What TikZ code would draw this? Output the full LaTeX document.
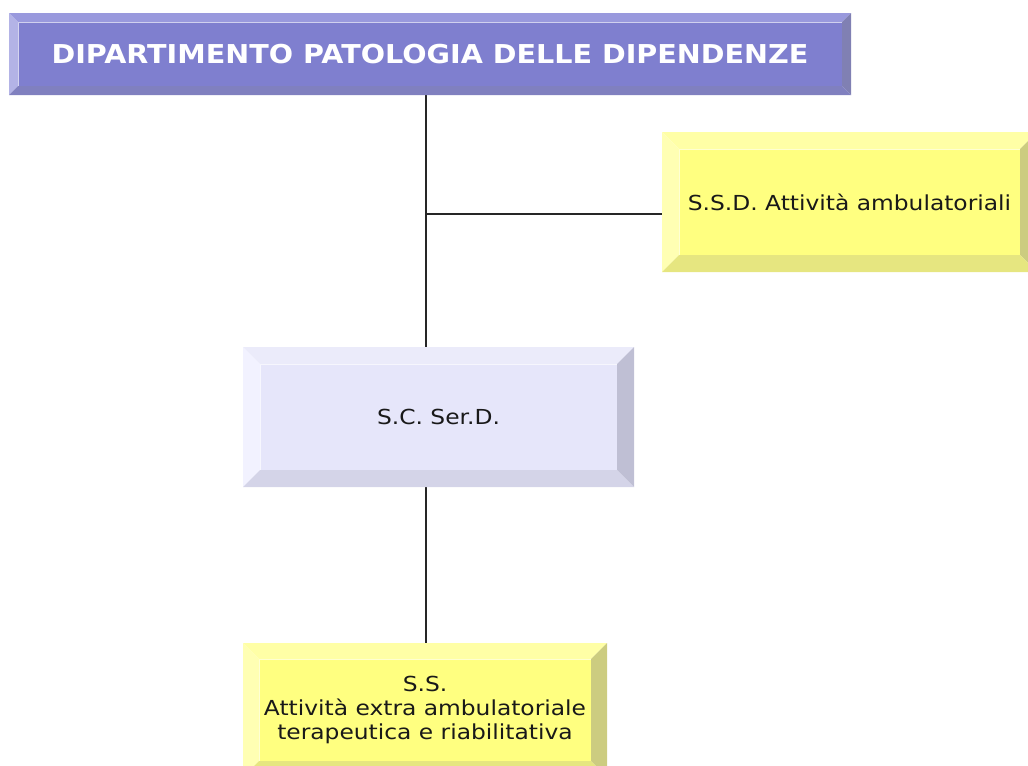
\documentclass[tikz,border=0pt]{standalone}
\usepackage{fontspec}
\setmainfont{DejaVu Sans}
\newfontfamily\boxfont[FakeStretch=1.13]{DejaVu Sans}
\newfontfamily\titlefont[FakeStretch=1.1]{DejaVu Sans Bold}
\usetikzlibrary{positioning,calc,backgrounds}

\definecolor{deptface}{HTML}{7F7FCF}
\definecolor{depttop}{HTML}{9999DD}
\definecolor{deptleft}{HTML}{B3B3E6}
\definecolor{deptright}{HTML}{8080B3}
\definecolor{deptbottom}{HTML}{8080BF}
\definecolor{yelface}{HTML}{FFFF80}
\definecolor{yeltop}{HTML}{FFFFA6}
\definecolor{yelleft}{HTML}{FFFFB3}
\definecolor{yelright}{HTML}{CCCC80}
\definecolor{yelbottom}{HTML}{E6E680}
\definecolor{lilface}{HTML}{E6E6FA}
\definecolor{liltop}{HTML}{EBEBFA}
\definecolor{lilleft}{HTML}{F2F2FF}
\definecolor{lilright}{HTML}{BFBFD4}
\definecolor{lilbottom}{HTML}{D4D4E8}

% bevel round a node: name, depth, top, left, right, bottom
\newcommand\bevel[6]{%
  \fill[#3] (#1.north west) -- ([shift={(-#2,-#2)}]#1.north west) -- ([shift={(#2,-#2)}]#1.north east) -- (#1.north east) -- cycle;
  \fill[#4] (#1.north west) -- ([shift={(-#2,-#2)}]#1.north west) -- ([shift={(-#2,#2)}]#1.south west) -- (#1.south west) -- cycle;
  \fill[#5] (#1.north east) -- ([shift={(#2,-#2)}]#1.north east) -- ([shift={(#2,#2)}]#1.south east) -- (#1.south east) -- cycle;
  \fill[#6] (#1.south west) -- ([shift={(-#2,#2)}]#1.south west) -- ([shift={(#2,#2)}]#1.south east) -- (#1.south east) -- cycle;
}

\begin{document}
\begin{tikzpicture}[x=0.75pt,y=-0.75pt,
    box/.style={rectangle, inner sep=0pt, outer sep=0pt, align=center, draw=white!70!#1, line width=0.6pt,
      font=\boxfont\fontsize{15.5}{17.8}\selectfont, text=black!90},
    link/.style={line width=1pt, black!85}]
  \useasboundingbox (0,0) rectangle (1028,765);

  % Department
  \node[box=deptface, fill=deptface, minimum width=618pt, minimum height=48pt, text=white,
    font=\titlefont\fontsize{19.5}{22}\selectfont] (dept) at (430,54) {DIPARTIMENTO PATOLOGIA DELLE DIPENDENZE};
  \bevel{dept}{9}{depttop}{deptleft}{deptright}{deptbottom}

  % Units
  \node[box=yelface, fill=yelface, minimum width=255.75pt, minimum height=79.5pt] (ssd) at (849.5,202) {S.S.D. Attività ambulatoriali};
  \bevel{ssd}{17}{yeltop}{yelleft}{yelright}{yelbottom}

  \node[box=lilface, fill=lilface, minimum width=267.75pt, minimum height=79.5pt] (serd) at (438.5,417) {S.C. Ser.D.};
  \bevel{serd}{17}{liltop}{lilleft}{lilright}{lilbottom}

  \node[box=yelface, fill=yelface, minimum width=249pt, minimum height=76.5pt] (ss) at (425,710) {S.S.\\Attività extra ambulatoriale\\terapeutica e riabilitativa};
  \bevel{ss}{16}{yeltop}{yelleft}{yelright}{yelbottom}

  % Connectors
  \coordinate (junction) at (426,214);
  \begin{scope}[on background layer]
    \draw[link] (dept.south -| junction) -- (serd.north -| junction);
    \draw[link] (junction) -- (junction -| ssd.west);
    \draw[link] (serd.south -| junction) -- (ss.north -| junction);
  \end{scope}
\end{tikzpicture}
\end{document}
